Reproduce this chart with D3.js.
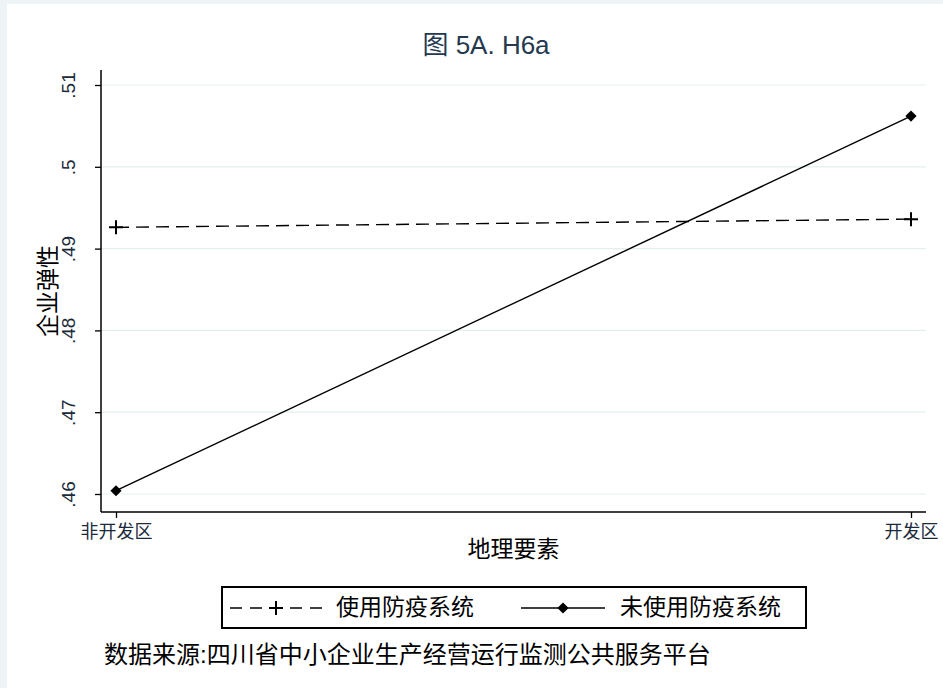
<!DOCTYPE html>
<html>
<head>
<meta charset="utf-8">
<script src="https://cdn.jsdelivr.net/npm/d3@7"></script>
<style>
  html, body { margin: 0; padding: 0; background: #eef3f5; }
  svg { display: block; }
</style>
</head>
<body>
<script>
const categories = ["非开发区", "开发区"];
const seriesNames = ["使用防疫系统", "未使用防疫系统"];
const usedValues = [0.4926, 0.4936];
const notUsedValues = [0.4604, 0.5062];
const yTicks = [0.46, 0.47, 0.48, 0.49, 0.50, 0.51];
const yTickLabels = [".46", ".47", ".48", ".49", ".5", ".51"];
const titleText = "图 5A. H6a";
const yTitle = "企业弹性";
const xTitle = "地理要素";
const sourceText = "数据来源:四川省中小企业生产经营运行监测公共服务平台";

const W = 943, H = 688;
const cjk = "'Liberation Sans', Arial, 'Noto Sans CJK SC', sans-serif";
const svg = d3.select("body").append("svg").attr("width", W).attr("height", H);

// frame
svg.append("rect").attr("x", 0).attr("y", 0).attr("width", W).attr("height", H).attr("fill", "#eef3f5");
svg.append("rect").attr("x", 7).attr("y", 4).attr("width", W - 7).attr("height", H - 4).attr("fill", "#ffffff");

const plot = { left: 101, right: 926, top: 70, bottom: 512 };
const x = d3.scalePoint().domain(categories).range([116, 911]);
const y = d3.scaleLinear().domain([0.46, 0.51]).range([494, 85]);

// gridlines
svg.append("g").selectAll("line").data(yTicks).join("line")
  .attr("x1", plot.left).attr("x2", plot.right)
  .attr("y1", d => y(d)).attr("y2", d => y(d))
  .attr("stroke", "#e6eff0").attr("stroke-width", 1.2);

// y axis
const yAxis = d3.axisLeft(y).tickValues(yTicks).tickSize(6)
  .tickFormat((d, i) => yTickLabels[i]);
const gy = svg.append("g").attr("transform", `translate(${plot.left},0)`).call(yAxis);
gy.select(".domain").remove();
gy.append("line").attr("x1", 0).attr("x2", 0).attr("y1", plot.top).attr("y2", plot.bottom)
  .attr("stroke", "#000").attr("stroke-width", 1.5);
gy.selectAll(".tick line").attr("stroke", "#000").attr("stroke-width", 1.3);
gy.selectAll(".tick text")
  .attr("x", null).attr("dy", null)
  .attr("transform", "translate(-26,0) rotate(-90)")
  .attr("text-anchor", "middle")
  .attr("font-family", cjk).attr("font-size", 19).attr("fill", "#1a2a3a");

// x axis
const xAxis = d3.axisBottom(x).tickSize(6);
const gx = svg.append("g").attr("transform", `translate(0,${plot.bottom})`).call(xAxis);
gx.select(".domain").remove();
gx.append("line").attr("x1", plot.left).attr("x2", plot.right).attr("y1", 0).attr("y2", 0)
  .attr("stroke", "#000").attr("stroke-width", 1.5);
gx.selectAll(".tick line").attr("stroke", "#000").attr("stroke-width", 1.3);
gx.selectAll(".tick text")
  .attr("y", 20).attr("dy", "0.35em")
  .attr("font-family", cjk).attr("font-size", 18).attr("fill", "#1a2a3a");

// titles
svg.append("text").attr("x", 486).attr("y", 47).attr("text-anchor", "middle")
  .attr("dominant-baseline", "middle")
  .attr("font-family", cjk).attr("font-size", 26).attr("fill", "#24384f").text(titleText);
svg.append("text").attr("transform", `translate(50,${(plot.top + plot.bottom) / 2}) rotate(-90)`)
  .attr("text-anchor", "middle").attr("dominant-baseline", "middle")
  .attr("font-family", cjk).attr("font-size", 23).attr("fill", "#000").text(yTitle);
svg.append("text").attr("x", (plot.left + plot.right) / 2).attr("y", 551)
  .attr("text-anchor", "middle").attr("dominant-baseline", "middle")
  .attr("font-family", cjk).attr("font-size", 23).attr("fill", "#000").text(xTitle);

// lines
const line = d3.line().x((d, i) => x(categories[i])).y(d => y(d));
svg.append("path").datum(usedValues).attr("d", line)
  .attr("fill", "none").attr("stroke", "#000").attr("stroke-width", 1.4)
  .attr("stroke-dasharray", "13,7");
svg.append("path").datum(notUsedValues).attr("d", line)
  .attr("fill", "none").attr("stroke", "#000").attr("stroke-width", 1.4);

// markers
function plusPath(cx, cy, s) {
  return `M${cx - s},${cy}H${cx + s}M${cx},${cy - s}V${cy + s}`;
}
svg.append("g").selectAll("path").data(usedValues).join("path")
  .attr("d", (d, i) => plusPath(x(categories[i]), y(d), 7))
  .attr("stroke", "#000").attr("stroke-width", 2).attr("fill", "none");
svg.append("g").selectAll("path").data(notUsedValues).join("path")
  .attr("transform", (d, i) => `translate(${x(categories[i])},${y(d)})`)
  .attr("d", d3.symbol().type(d3.symbolDiamond2).size(80))
  .attr("fill", "#000");

// legend
const lg = svg.append("g");
lg.append("rect").attr("x", 222).attr("y", 587).attr("width", 584).attr("height", 41)
  .attr("fill", "#fff").attr("stroke", "#000").attr("stroke-width", 2);
const ly = 608;
lg.append("line").attr("x1", 230).attr("x2", 322).attr("y1", ly).attr("y2", ly)
  .attr("stroke", "#000").attr("stroke-width", 1.4).attr("stroke-dasharray", "12,8");
lg.append("path").attr("d", plusPath(276, ly, 7)).attr("stroke", "#000").attr("stroke-width", 2);
lg.append("text").attr("x", 336).attr("y", ly + 1).attr("dominant-baseline", "middle")
  .attr("font-family", cjk).attr("font-size", 23).attr("fill", "#000").text(seriesNames[0]);
lg.append("line").attr("x1", 521).attr("x2", 605).attr("y1", ly).attr("y2", ly)
  .attr("stroke", "#000").attr("stroke-width", 1.4);
lg.append("path").attr("transform", `translate(563,${ly})`)
  .attr("d", d3.symbol().type(d3.symbolDiamond2).size(80)).attr("fill", "#000");
lg.append("text").attr("x", 620).attr("y", ly + 1).attr("dominant-baseline", "middle")
  .attr("font-family", cjk).attr("font-size", 23).attr("fill", "#000").text(seriesNames[1]);

// source
svg.append("text").attr("x", 104).attr("y", 657).attr("dominant-baseline", "middle")
  .attr("font-family", cjk).attr("font-size", 24).attr("fill", "#000").text(sourceText);
</script>
</body>
</html>
